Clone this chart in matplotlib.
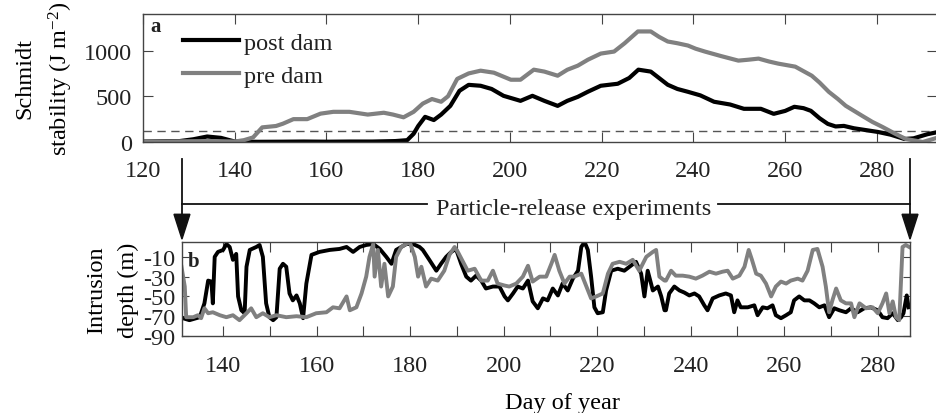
import numpy as np
import matplotlib
matplotlib.use('Agg')
import matplotlib.pyplot as plt

plt.rcParams['font.family'] = ['Liberation Serif', 'DejaVu Serif']
plt.rcParams['font.size'] = 17.5
plt.rcParams['text.color'] = '#222222'
plt.rcParams['axes.unicode_minus'] = False
plt.rcParams['mathtext.fontset'] = 'custom'
plt.rcParams['mathtext.rm'] = 'Liberation Serif'
plt.rcParams['mathtext.it'] = 'Liberation Serif:italic'

# ---- panel a: Schmidt stability (J m-2) ----
post_a_day = [120, 124, 128, 131, 134, 137, 140, 145, 150, 155, 160, 165, 170, 175, 177.6,
              179, 180, 181.5, 183.4, 185, 187, 189, 191, 193.6, 196, 198.6, 202.3, 204.9,
              207.5, 210.4, 212.5, 214.8, 217, 219.8, 223.5, 226, 228, 230.7, 232.5, 234.4,
              236.5, 238.8, 241.5, 244.5, 248, 251, 254.7, 257.5, 260, 262, 264, 265.6, 267.5,
              269.3, 271, 272.8, 275, 280.2, 283, 286, 288, 291, 293.4]
post_a_val = [5, 8, 10, 30, 60, 45, 5, 2, 3, 5, 3, 5, 5, 10, 20,
              90, 175, 275, 240, 300, 395, 560, 625, 615, 580, 505, 450, 505,
              450, 395, 450, 494, 550, 615, 637, 700, 791, 770, 700, 626,
              580, 549, 510, 440, 410, 363, 363, 308, 340, 385, 370, 341, 260,
              198, 170, 176, 150, 110, 80, 33, 40, 85, 110]

pre_a_day = [120, 125, 130, 135, 140, 142, 144, 146, 149, 150.5, 152.8, 155.8, 158.7, 161.5,
             165, 169, 172.5, 174.5, 176.8, 179, 181, 183, 185, 186.5, 188.5, 191, 193.6,
             196.5, 200.2, 202.3, 205.2, 207.5, 210.4, 212.5, 214.8, 217, 219.8, 222.7, 225,
             227.9, 230.7, 232.5, 234.4, 236.5, 238.8, 240.5, 242.5, 246, 249.8, 252, 254.2,
             256.5, 258.5, 262.2, 265.8, 267.5, 269.5, 271.5, 273.2, 276.8, 279, 281.2, 284,
             286.3, 290, 293.4]
pre_a_val = [5, 5, 8, 10, 5, 20, 50, 160, 175, 200, 250, 250, 310, 330,
             330, 300, 320, 300, 270, 330, 420, 470, 440, 500, 690, 750, 780,
             758, 681, 681, 791, 770, 725, 790, 835, 900, 967, 989, 1080,
             1209, 1209, 1150, 1099, 1080, 1055, 1020, 989, 940, 890, 900, 912,
             880, 857, 824, 725, 650, 549, 470, 396, 286, 220, 165, 90,
             33, 0, 50]

threshold = 120

# ---- panel b: intrusion depth (m) ----
post_b_day = [131.4, 132.8, 135.0, 136.0, 136.8, 137.5, 137.8, 138.2, 138.9, 140.0, 140.7, 141.4,
              142.1, 142.8, 143.2, 143.9, 144.6, 145.0, 145.7, 147.1, 147.8, 148.5, 149.2, 149.9,
              150.7, 151.4, 152.1, 152.8, 153.5, 154.2, 154.9, 155.7, 156.4, 157.1, 157.8, 158.9,
              160.6, 162.8, 164.9, 166.4, 167.8, 169.2, 170.6, 172.1, 173.5, 174.9, 176.0, 177.0,
              179.2, 180.6, 182.0, 182.7, 184.1, 185.6, 186.6, 187.7, 188.8, 189.8, 190.9, 192.0,
              193.0, 194.1, 195.2, 196.2, 197.7, 199.1, 200.2, 200.9, 202.0, 203.0, 204.1, 205.2,
              206.2, 207.3, 208.4, 209.4, 210.5, 211.6, 212.6, 213.7, 214.8, 215.9, 216.6, 217.3,
              218.0, 218.7, 219.4, 220.1, 221.2, 221.9, 223.0, 224.4, 225.8, 226.9, 228.3, 229.4,
              230.1, 230.8, 231.9, 233.0, 233.7, 234.4, 234.7, 235.4, 236.5, 237.6, 238.6, 239.7,
              240.8, 241.8, 242.9, 243.6, 244.7, 246.1, 247.5, 248.6, 249.3, 250.0, 250.7, 252.2,
              253.6, 254.3, 255.4, 256.4, 257.5, 258.2, 259.3, 260.4, 261.4, 262.1, 263.2, 264.3,
              265.4, 266.4, 267.5, 268.6, 269.6, 270.7, 271.8, 273.2, 274.3, 275.7, 277.1, 278.5,
              280.0, 281.0, 282.1, 283.2, 284.3, 285.0, 285.5, 286.2, 286.6]
post_b_val = [-72, -74, -71, -57, -34, -35, -57, -10, -5, -3, 3, 0,
              -13, -7, -50, -64, -67, -20, -3, 0, 2, -10, -57, -71,
              -74, -71, -22, -17, -20, -47, -54, -49, -57, -72, -37, -8,
              -5, -3, -2, 0, -5, 0, 2, 3, -2, -10, -17, -3,
              3, 3, 0, -3, -13, -24, -17, -10, -5, -2, -17, -30,
              -34, -29, -34, -42, -40, -40, -50, -54, -47, -40, -42, -34,
              -55, -62, -52, -54, -42, -49, -37, -44, -32, -24, 0, 5,
              -3, -30, -61, -67, -66, -44, -24, -22, -24, -20, -15, -27,
              -50, -24, -44, -40, -50, -64, -64, -47, -40, -44, -46, -49,
              -47, -50, -59, -64, -52, -49, -47, -49, -66, -54, -61, -61,
              -59, -69, -61, -62, -59, -69, -72, -69, -66, -54, -50, -54,
              -54, -57, -61, -59, -71, -62, -64, -66, -62, -66, -62, -61,
              -64, -71, -72, -67, -74, -71, -67, -49, -61]

pre_b_day = [131.1, 131.8, 132.1, 133.6, 134.6, 135.3, 136.0, 136.8, 137.8, 139.3, 140.7, 142.1,
             143.5, 145.0, 146.0, 147.1, 148.5, 149.9, 151.4, 153.5, 155.7, 157.8, 159.9, 162.1,
             163.5, 164.9, 166.4, 167.1, 168.5, 169.6, 170.6, 171.3, 172.1, 172.4, 173.1, 173.8,
             174.5, 175.3, 176.3, 177.0, 178.1, 179.9, 181.0, 181.7, 182.4, 183.4, 184.5, 185.9,
             187.3, 188.4, 189.5, 190.2, 191.3, 192.3, 193.8, 195.2, 196.6, 197.7, 198.7, 200.2,
             201.2, 202.7, 204.1, 205.2, 206.2, 207.7, 209.1, 210.2, 210.9, 211.9, 213.0, 214.1,
             215.1, 216.6, 217.6, 218.7, 219.8, 221.2, 222.3, 223.3, 224.8, 226.2, 227.6, 229.0,
             230.5, 231.9, 232.6, 233.3, 234.4, 234.7, 235.8, 236.8, 238.3, 239.7, 241.1, 242.5,
             244.0, 245.4, 246.8, 247.9, 249.0, 250.4, 251.5, 252.4, 253.1, 254.0, 255.0, 256.1,
             257.2, 258.2, 259.3, 260.4, 261.4, 262.9, 263.9, 265.0, 266.1, 267.1, 268.2, 268.9,
             269.6, 270.3, 271.1, 272.1, 273.2, 274.3, 275.0, 276.1, 277.5, 278.9, 280.0, 281.0,
             281.8, 282.5, 283.2, 283.9, 284.6, 285.3, 286.0, 286.7]
pre_b_val = [-20, -40, -71, -71, -69, -72, -62, -67, -66, -69, -71, -69,
             -74, -67, -62, -71, -67, -71, -69, -71, -70, -71, -67, -66,
             -61, -62, -50, -64, -61, -47, -30, -10, 3, -30, -3, -40,
             -17, -50, -40, -10, 0, 5, -10, -30, -20, -40, -32, -34,
             -24, -8, 0, -5, -15, -24, -22, -34, -34, -24, -37, -39,
             -40, -37, -30, -19, -35, -30, -30, -17, -8, -24, -37, -30,
             -30, -27, -39, -52, -50, -47, -27, -17, -15, -17, -13, -24,
             -10, -5, -3, -30, -34, -34, -24, -29, -29, -30, -32, -29,
             -25, -27, -25, -24, -32, -29, -20, -3, -13, -27, -29, -37,
             -50, -40, -35, -37, -34, -32, -34, -24, -3, -2, -20, -40,
             -66, -54, -42, -54, -57, -57, -71, -57, -62, -61, -67, -57,
             -47, -67, -55, -71, -74, 0, 2, 0]

post_color = 'black'
pre_color = '#808080'
frame_color = '#444444'
label_color = '#222222'

fig = plt.figure(figsize=(9.37, 4.14), dpi=100)
ax_a = fig.add_axes([0.1526, 0.6546, 0.8474, 0.3092])
ax_b = fig.add_axes([0.1942, 0.186, 0.777, 0.227])

# panel a
ax_a.axhline(threshold, color='#555555', lw=1, ls=(0, (6, 4)))
ax_a.plot(post_a_day, post_a_val, color=post_color, lw=3, label='post dam')
ax_a.plot(pre_a_day, pre_a_val, color=pre_color, lw=3, label='pre dam')
ax_a.set_xlim(120, 293.1)
ax_a.set_ylim(0, 1400)
ax_a.set_xticks(np.arange(120, 281, 20))
ax_a.set_yticks([0, 500, 1000])
ax_a.tick_params(axis='x', direction='in', top=True, length=7, pad=13, colors=frame_color,
                 labelcolor=label_color, labelsize=17.5)
ax_a.tick_params(axis='y', direction='in', right=True, length=7, pad=8, colors=frame_color,
                 labelcolor=label_color, labelsize=17.5)
ax_a.set_ylabel('Schmidt\nstability (J m$^{-2}$)', fontsize=17.5, linespacing=1.55, labelpad=6)
ax_a.text(0.009, 0.91, 'a', transform=ax_a.transAxes, fontsize=15, fontweight='bold',
          va='center', ha='left')
ax_a.legend(loc='upper left', bbox_to_anchor=(0.035, 0.955), frameon=False, fontsize=17.5,
            handlelength=2.3, handletextpad=0.2, labelspacing=0.45, borderaxespad=0.1)

# panel b
ax_b.plot(post_b_day, post_b_val, color=post_color, lw=2.8)
ax_b.plot(pre_b_day, pre_b_val, color=pre_color, lw=2.8)
ax_b.set_xlim(131.2, 286.9)
ax_b.set_ylim(-90, 5)
xt = np.arange(140, 281, 10)
ax_b.set_xticks(xt)
ax_b.set_xticklabels([str(v) if v % 20 == 0 else '' for v in xt])
ax_b.set_yticks([-90, -70, -50, -30, -10])
ax_b.tick_params(axis='x', direction='in', top=True, length=7, pad=14, colors=frame_color,
                 labelcolor=label_color, labelsize=17.5)
ax_b.tick_params(axis='y', direction='in', right=True, length=5, pad=5, colors=frame_color,
                 labelcolor=label_color, labelsize=17.5)
ax_b.set_ylabel('Intrusion\ndepth (m)', fontsize=17.5, linespacing=1.65, labelpad=3)
ax_b.set_xlabel('Day of year', fontsize=17.5)
ax_b.xaxis.set_label_coords(0.522, -0.6)
ax_b.text(0.008, 0.8, 'b', transform=ax_b.transAxes, fontsize=15, fontweight='bold',
          va='center', ha='left')

for ax in (ax_a, ax_b):
    for s in ax.spines.values():
        s.set_color(frame_color)
        s.set_linewidth(1)

# particle-release arrows, drawn in figure coordinates at the panel b edges
pos = ax_b.get_position()
x_left, x_right = pos.x0, pos.x1
y_top, y_tip, y_mid = 0.6135, 0.42, 0.5048
for xx in (x_left, x_right):
    fig.add_artist(plt.Line2D([xx, xx], [y_top, y_tip + 0.03], color='#111111', lw=1.3))
    fig.patches.append(plt.Polygon([[xx - 0.0085, y_tip + 0.06], [xx + 0.0085, y_tip + 0.06],
                                    [xx, y_tip]], closed=True, color='#111111',
                                   transform=fig.transFigure, figure=fig))
fig.add_artist(plt.Line2D([x_left, 0.4557], [y_mid, y_mid], color='#111111', lw=1.3))
fig.add_artist(plt.Line2D([0.7663, x_right], [y_mid, y_mid], color='#111111', lw=1.3))
fig.text(0.6125, y_mid - 0.01, 'Particle-release experiments', ha='center', va='center',
         fontsize=17.5)

fig.savefig('out.png', dpi=100)
